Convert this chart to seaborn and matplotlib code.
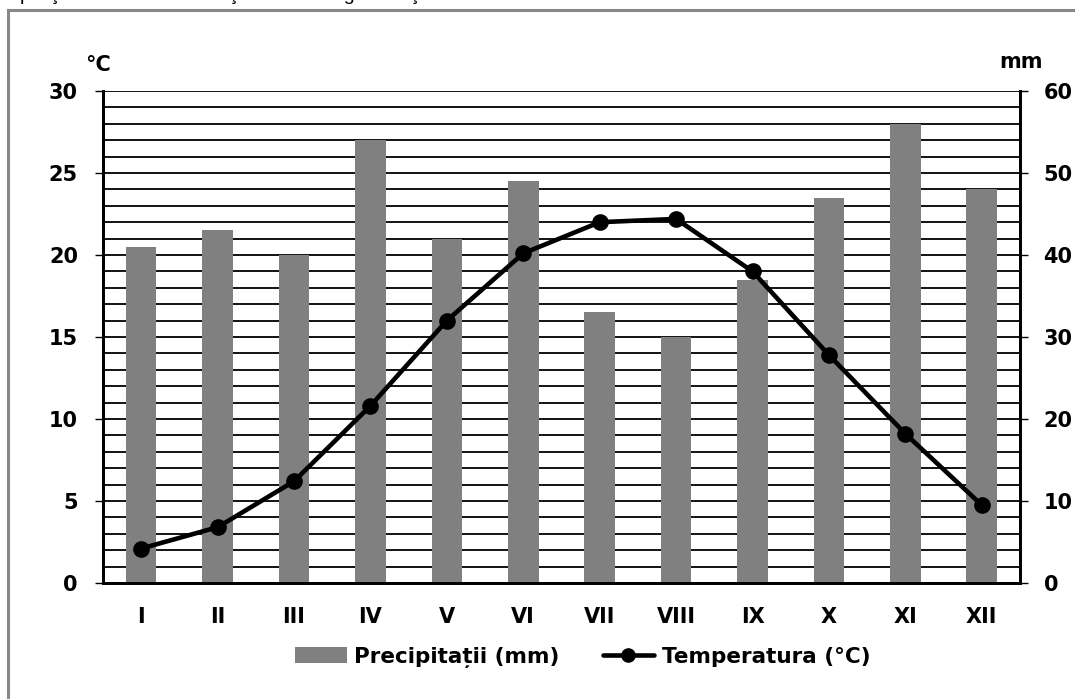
import numpy as np
import matplotlib
matplotlib.use("Agg")
import matplotlib.pyplot as plt
from matplotlib.patches import Rectangle
from matplotlib.lines import Line2D
from matplotlib.patches import Patch
import seaborn as sns

# Monthly data
months = ["I", "II", "III", "IV", "V", "VI", "VII", "VIII", "IX", "X", "XI", "XII"]
precip_mm = [41, 43, 40, 54, 42, 49, 33, 30, 37, 47, 56, 48]
temp_c = [2.1, 3.4, 6.2, 10.8, 16.0, 20.1, 22.0, 22.2, 19.0, 13.9, 9.1, 4.75]
temp_ticks = [0, 5, 10, 15, 20, 25, 30]
precip_ticks = [0, 10, 20, 30, 40, 50, 60]

sns.set_style("white")
plt.rcParams["font.family"] = ["DejaVu Sans"]
plt.rcParams["font.weight"] = "bold"
plt.rcParams["text.color"] = "black"
plt.rcParams["xtick.color"] = "black"
plt.rcParams["ytick.color"] = "black"

fig = plt.figure(figsize=(10.75, 6.99), dpi=100)
ax = fig.add_axes([0.0958, 0.166, 0.853, 0.7038])
ax2 = ax.twinx()

# bars (precipitation) on the right axis, below the line
sns.barplot(x=months, y=precip_mm, ax=ax2, color="#808080", saturation=1,
            width=0.4, zorder=2, edgecolor="none", linewidth=0)
ax2.set_ylim(0, 60)
ax2.set_yticks(precip_ticks)
ax2.set_yticks(np.arange(0, 61, 2), minor=True)
ax2.grid(axis="y", which="both", color="black", lw=1.3)
ax2.set_axisbelow(True)

# temperature line on the left axis
sns.pointplot(x=months, y=temp_c, ax=ax, color="black", markers="o",
              linewidth=3.3, markersize=9.5, errorbar=None)
ax.set_zorder(ax2.get_zorder() + 1)
ax.patch.set_visible(False)
ax.set_ylim(0, 30)
ax.set_yticks(temp_ticks)
ax.set_xlim(-0.5, 11.5)

for a in (ax, ax2):
    for s in a.spines.values():
        s.set_linewidth(2)
        s.set_color("black")
    a.spines["top"].set_visible(False)
    a.set_xlabel("")
    a.set_ylabel("")

ax.tick_params(axis="y", which="major", direction="out", length=6, width=1,
               labelsize=15, pad=12, labelcolor="black")
ax2.tick_params(axis="y", which="major", direction="out", length=6, width=1,
                labelsize=15, pad=11, labelcolor="black")
ax2.tick_params(axis="y", which="minor", length=0)
ax.set_xticks(np.arange(-0.5, 12, 1), minor=True)
ax.tick_params(axis="x", which="major", length=0, labelsize=15, pad=17,
               labelcolor="black")
ax.tick_params(axis="x", which="minor", direction="out", length=7, width=1)
ax2.tick_params(axis="x", which="both", length=0, labelbottom=False)
for lab in ax.get_xticklabels() + ax.get_yticklabels() + ax2.get_yticklabels():
    lab.set_fontweight("bold")

fig.text(98 / 1075, 1 - 65 / 699, "°C", fontsize=15, fontweight="bold",
         ha="center", va="center", color="black")
fig.text(1021 / 1075, 1 - 62 / 699, "mm", fontsize=15, fontweight="bold",
         ha="center", va="center", color="black")

handles = [Patch(facecolor="#808080", edgecolor="none"),
           Line2D([], [], color="black", lw=3.3, marker="o", markersize=9.5)]
fig.legend(handles, ["Precipitații (mm)", "Temperatura (°C)"],
           loc="center", bbox_to_anchor=(0.542, 0.06), ncol=2, frameon=False,
           prop={"size": 15.5, "weight": "bold"}, handlelength=2.4,
           handletextpad=0.35, columnspacing=2.0, labelcolor="black")

# cropped caption and chart frame
fig.text(-5 / 1075, 1.0,
         "ecipitaţii medii lunare la staţia meteorologică Roşia",
         fontsize=14, fontweight="normal", ha="left", va="baseline",
         color="black", family=["Liberation Sans", "DejaVu Sans"])
fig.patches.append(Rectangle((8 / 1075, -0.1), 1.2, 1.0857, transform=fig.transFigure,
                             fill=False, edgecolor="#888888", lw=2.2))

fig.savefig("out.png", dpi=100)
